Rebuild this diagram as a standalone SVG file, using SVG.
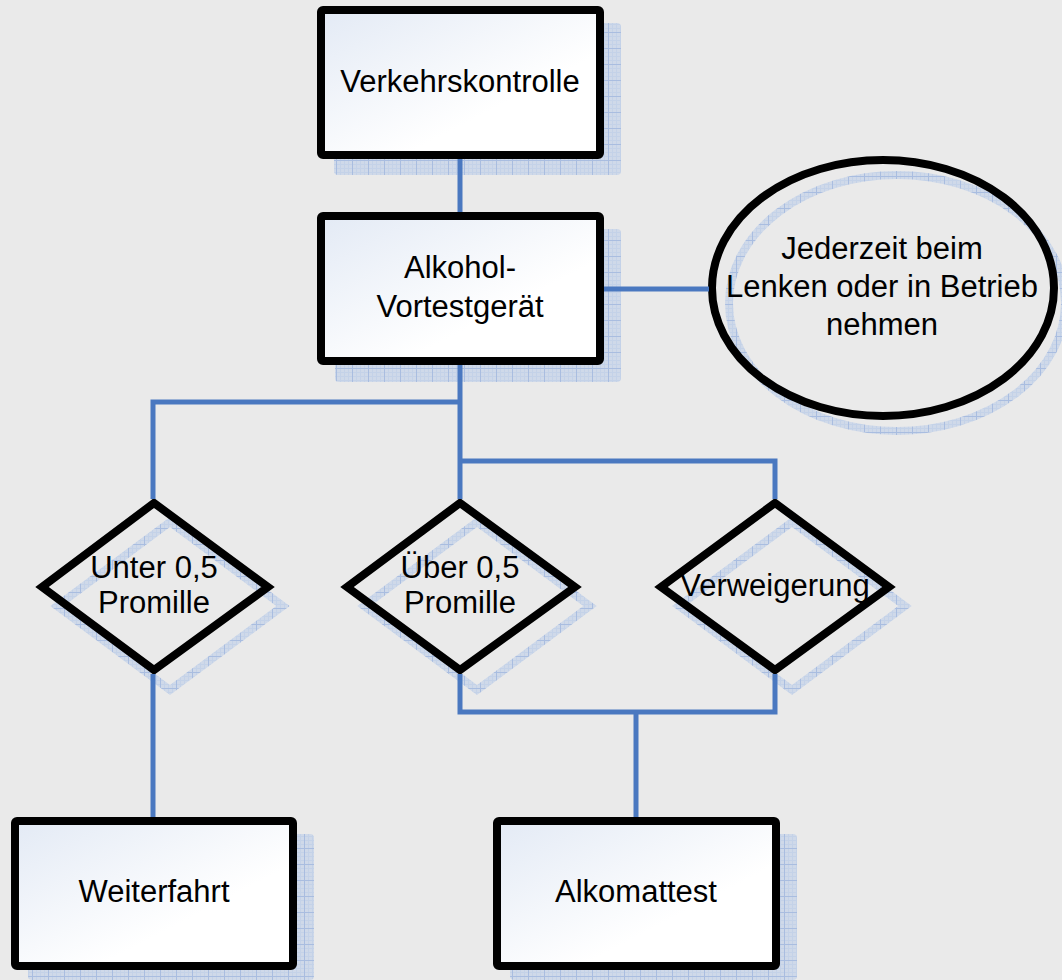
<svg xmlns="http://www.w3.org/2000/svg" width="1062" height="980" viewBox="0 0 1062 980">
<defs>
<linearGradient id="boxgrad" x1="0" y1="0" x2="1" y2="1">
<stop offset="0" stop-color="#e3eaf5"/>
<stop offset="0.65" stop-color="#ffffff"/>
<stop offset="1" stop-color="#ffffff"/>
</linearGradient>
<pattern id="fine" width="4" height="4" patternUnits="userSpaceOnUse">
<rect width="4" height="4" fill="#cfd9e9"/>
<path d="M0 0.5H4M0.5 0V4" stroke="#c4d2e8" stroke-width="1"/>
</pattern>
<pattern id="grid" width="16" height="16" patternUnits="userSpaceOnUse">
<rect width="16" height="16" fill="url(#fine)"/>
<path d="M0 0.5H16M0.5 0V16" stroke="#a9bde0" stroke-width="1"/>
</pattern>
<style>
.box{fill:url(#boxgrad);stroke:#000;stroke-width:8}
.dia{fill:none;stroke:#000;stroke-width:8;stroke-linejoin:miter}
.shadow{fill:url(#grid)}
.shadowline{fill:none;stroke:url(#grid);stroke-width:8}
.con{fill:none;stroke:#4a78c0;stroke-width:5}
text{font-family:"Liberation Sans",Arial,sans-serif;font-size:31px;fill:#000;text-anchor:middle}
</style>
</defs>
<rect width="1062" height="980" fill="#eaeaea"/>

<g id="verkehrskontrolle">
<rect class="shadow" x="334" y="23" width="287" height="152" rx="4"/>
<rect class="box" x="321" y="10" width="279" height="145" rx="2"/>
<text x="460" y="92">Verkehrskontrolle</text>
</g>

<g id="vortestgeraet">
<rect class="shadow" x="335" y="229" width="286" height="153" rx="4"/>
<rect class="box" x="321" y="216" width="279" height="145" rx="2"/>
<text x="460" y="278">Alkohol-</text>
<text x="460" y="317">Vortestgerät</text>
</g>

<g id="jederzeit">
<ellipse class="shadowline" cx="897" cy="303" rx="168" ry="128"/>
<ellipse cx="883" cy="288" rx="171" ry="128" fill="none" stroke="#000" stroke-width="8"/>
<text x="882" y="259">Jederzeit beim</text>
<text x="882" y="297">Lenken oder in Betrieb</text>
<text x="882" y="335">nehmen</text>
</g>

<g id="unter">
<path class="shadowline" d="M170 522L283 606L170 690L57 606Z"/>
<path class="dia" d="M154 503L268 587L154 670L42 587Z"/>
<text x="154" y="578">Unter 0,5</text>
<text x="154" y="613">Promille</text>
</g>

<g id="ueber">
<path class="shadowline" d="M477 522L590 606L477 690L364 606Z"/>
<path class="dia" d="M460 503L575 587L460 670L347 587Z"/>
<text x="460" y="578">Über 0,5</text>
<text x="460" y="613">Promille</text>
</g>

<g id="verweigerung">
<path class="shadowline" d="M792 522L905 606L792 690L679 606Z"/>
<path class="dia" d="M775 503L889 587L775 670L661 587Z"/>
<text x="775" y="596">Verweigerung</text>
</g>

<g id="weiterfahrt">
<rect class="shadow" x="28" y="834" width="286" height="146" rx="4"/>
<rect class="box" x="15" y="821" width="278" height="145" rx="2"/>
<text x="154" y="902">Weiterfahrt</text>
</g>

<g id="alkomattest">
<rect class="shadow" x="510" y="834" width="287" height="146" rx="4"/>
<rect class="box" x="497" y="821" width="279" height="145" rx="2"/>
<text x="636" y="902">Alkomattest</text>
</g>

<g id="connectors">
<path class="con" d="M460 159V212"/>
<path class="con" d="M604 289H709"/>
<path class="con" d="M460 365V499"/>
<path class="con" d="M460 402H153V499"/>
<path class="con" d="M460 461H775V499"/>
<path class="con" d="M153 674V817"/>
<path class="con" d="M460 674V712H775V674"/>
<path class="con" d="M636 712V817"/>
</g>
</svg>
